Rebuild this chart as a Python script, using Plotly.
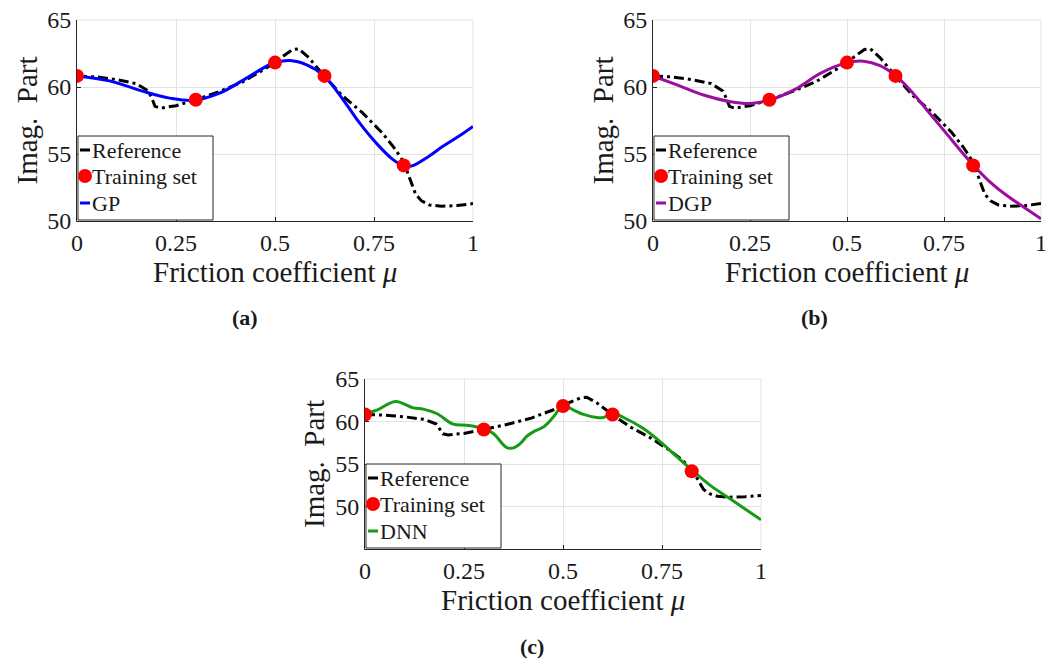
import plotly.graph_objects as go

# ---------------- data ----------------
mu_ref = [0.00, 0.05, 0.10, 0.15, 0.18, 0.19, 0.197, 0.21, 0.25, 0.30, 0.36, 0.42,
          0.48, 0.52, 0.545, 0.56, 0.585, 0.625, 0.67, 0.72, 0.77, 0.80, 0.825,
          0.84, 0.855, 0.87, 0.89, 0.92, 0.96, 1.00]
imag_ref = [60.83, 60.75, 60.55, 60.25, 59.7, 59.1, 58.55, 58.42, 58.6, 59.05, 59.67, 60.4,
            61.45, 62.3, 62.8, 62.85, 62.2, 60.8, 59.35, 58.1, 56.6, 55.5, 54.4,
            53.2, 52.0, 51.5, 51.2, 51.1, 51.15, 51.3]

mu_train = [0.0, 0.3, 0.5, 0.625, 0.825]
imag_train = [60.83, 59.05, 61.82, 60.83, 54.15]

mu_gp = [0.0, 0.082, 0.167, 0.234, 0.293, 0.36, 0.428, 0.495, 0.537, 0.58, 0.624,
         0.672, 0.714, 0.756, 0.798, 0.828, 0.848, 0.882, 0.924, 0.966, 1.0]
imag_gp = [60.83, 60.46, 59.67, 59.17, 59.0, 59.54, 60.66, 61.77, 61.97, 61.65, 60.83,
           59.05, 57.3, 55.8, 54.58, 54.08, 54.13, 54.7, 55.57, 56.36, 57.06]

mu_dgp = [0.0, 0.07, 0.13, 0.2, 0.25, 0.3, 0.371, 0.43, 0.498, 0.543, 0.585, 0.627,
          0.671, 0.714, 0.757, 0.8, 0.828, 0.869, 0.912, 0.955, 1.0]
imag_dgp = [60.81, 60.07, 59.4, 58.9, 58.77, 59.02, 59.9, 61.0, 61.8, 61.93, 61.6, 60.81,
            59.5, 58.0, 56.5, 55.0, 54.1, 52.9, 51.9, 51.05, 50.17]

mu_dnn = [0.0, 0.03, 0.077, 0.122, 0.147, 0.181, 0.223, 0.257, 0.3, 0.324, 0.358, 0.375,
          0.392, 0.409, 0.425, 0.451, 0.476, 0.5, 0.527, 0.552, 0.585, 0.602, 0.626,
          0.653, 0.703, 0.746, 0.788, 0.828, 0.872, 0.922, 1.0]
imag_dnn = [60.94, 61.34, 62.36, 61.6, 61.46, 60.94, 59.69, 59.57, 59.17, 58.58, 56.93, 56.9,
            57.4, 58.27, 58.78, 59.37, 60.55, 61.85, 61.34, 60.83, 60.47, 60.47, 60.94,
            60.47, 59.17, 57.6, 55.83, 54.17, 52.48, 50.9, 48.43]

x_ticks = [0, 0.25, 0.5, 0.75, 1]
x_ticktext = ["0", "0.25", "0.5", "0.75", "1"]
y_ticks = [50, 55, 60, 65]
y_ticktext = ["50", "55", "60", "65"]

# ---------------- figure ----------------
W, H = 1064, 661
OFF = 8  # page body margin in the browser
FONT = "Liberation Serif"
TXT = "#1a1a1a"
AXC = "#262626"
GRID = "#e3e3e3"

# plot areas in screen pixels: (left, right, top, bottom)
areas = {
    "a": (77, 473, 20, 221),
    "b": (653, 1041, 20, 221),
    "c": (365, 761, 379, 549),
}

def px_x(x):
    return (x - OFF) / W

def px_y(y):
    return 1 - (y - OFF) / H

fig = go.Figure()

panels = [
    ("a", "x", "y", mu_gp, imag_gp, "GP", "#0000ff", [50, 65]),
    ("b", "x2", "y2", mu_dgp, imag_dgp, "DGP", "#9a0ea0", [50, 65]),
    ("c", "x3", "y3", mu_dnn, imag_dnn, "DNN", "#169b16", [45, 65]),
]

REF_DASH = "10px,4px,3px,4px"

for key, xr, yr, mx, my, name, col, yrange in panels:
    fig.add_trace(go.Scatter(x=mu_ref, y=imag_ref, mode="lines", xaxis=xr, yaxis=yr,
                             line=dict(color="black", width=3, dash=REF_DASH),
                             name="Reference", showlegend=False))
    fig.add_trace(go.Scatter(x=mx, y=my, mode="lines", xaxis=xr, yaxis=yr,
                             line=dict(color=col, width=3, shape="spline", smoothing=1),
                             name=name, showlegend=False))
    fig.add_trace(go.Scatter(x=mu_train, y=imag_train, mode="markers", xaxis=xr, yaxis=yr,
                             marker=dict(color="#ff0000", size=14, line=dict(width=0)),
                             name="Training set", showlegend=False))

axis_common = dict(showline=True, linecolor=AXC, linewidth=1, mirror=False,
                   showgrid=True, gridcolor=GRID, gridwidth=1, zeroline=False,
                   ticks="inside", ticklen=4, tickcolor=AXC, automargin=False,
                   ticklabeloverflow="allow",
                   tickfont=dict(family=FONT, size=24, color=TXT))

layout = dict(width=W, height=H, paper_bgcolor="white", plot_bgcolor="white",
              margin=dict(l=0, r=0, t=0, b=0, pad=0, autoexpand=False),
              showlegend=False)

for i, (key, xr, yr, mx, my, name, col, yrange) in enumerate(panels):
    l, r, t, b = areas[key]
    sx = "" if i == 0 else str(i + 1)
    layout["xaxis" + sx] = dict(axis_common, domain=[px_x(l), px_x(r)], range=[0, 1],
                                anchor=yr, tickvals=x_ticks, ticktext=x_ticktext,
                                ticklabelstandoff=0)
    layout["yaxis" + sx] = dict(axis_common, domain=[px_y(b), px_y(t)], range=yrange,
                                anchor=xr, tickvals=y_ticks, ticktext=y_ticktext,
                                ticklabelstandoff=0)

fig.update_layout(**layout)

annotations = []
shapes = []

for key, xr, yr, mx, my, name, col, yrange in panels:
    l, r, t, b = areas[key]
    cx = (l + r) / 2
    cy = (t + b) / 2
    xd = xr + " domain"
    yd = yr + " domain"
    # light box edges (top and right), as in the original axes
    shapes.append(dict(type="line", xref=xd, yref=yd, x0=0, x1=1, y0=1, y1=1,
                       line=dict(color=GRID, width=1), layer="below"))
    shapes.append(dict(type="line", xref=xd, yref=yd, x0=1, x1=1, y0=0, y1=1,
                       line=dict(color=GRID, width=1), layer="below"))
    # x title
    annotations.append(dict(x=px_x(cx), y=px_y(b + 51), xref="paper", yref="paper",
                            text="Friction coefficient <i>μ</i>", showarrow=False,
                            xanchor="center", yanchor="middle",
                            font=dict(family=FONT, size=29, color=TXT)))
    # y title
    annotations.append(dict(x=px_x(l - 51), y=px_y(cy), xref="paper", yref="paper",
                            text="Imag.\u00a0\u00a0Part", showarrow=False, textangle=-90,
                            xanchor="center", yanchor="middle",
                            font=dict(family=FONT, size=29, color=TXT)))
    # legend (pixel offsets from bottom-left of plot area)
    wpx, hpx = r - l, b - t
    fx = lambda p: p / wpx
    fy = lambda p: p / hpx
    shapes.append(dict(type="rect", xref=xd, yref=yd, x0=fx(1), x1=fx(136),
                       y0=fy(1), y1=fy(85), line=dict(color=AXC, width=1),
                       fillcolor="white", layer="above"))
    rows = [71, 45, 18]
    shapes.append(dict(type="line", xref=xd, yref=yd, x0=fx(3), x1=fx(13),
                       y0=fy(rows[0]), y1=fy(rows[0]), line=dict(color="black", width=3)))
    shapes.append(dict(type="circle", xref=xd, yref=yd, xsizemode="pixel", ysizemode="pixel",
                       xanchor=fx(8), yanchor=fy(rows[1]), x0=-7, x1=7, y0=-7, y1=7,
                       fillcolor="#ff0000", line=dict(width=0)))
    shapes.append(dict(type="line", xref=xd, yref=yd, x0=fx(3), x1=fx(13),
                       y0=fy(rows[2]), y1=fy(rows[2]), line=dict(color=col, width=3)))
    for row, lab in zip(rows, ["Reference", "Training set", name]):
        annotations.append(dict(x=fx(13), y=fy(row), xref=xd, yref=yd, text=lab,
                                showarrow=False, xanchor="left", yanchor="middle",
                                font=dict(family=FONT, size=22, color=TXT)))

# sub-captions
for txt, x, y in [("(a)", 245, 318), ("(b)", 814, 318), ("(c)", 532, 646)]:
    annotations.append(dict(x=px_x(x), y=px_y(y), xref="paper", yref="paper",
                            text="<b>" + txt + "</b>", showarrow=False,
                            xanchor="center", yanchor="middle",
                            font=dict(family=FONT, size=22, color=TXT)))

fig.update_layout(annotations=annotations, shapes=shapes)

fig.write_html("out.html")
